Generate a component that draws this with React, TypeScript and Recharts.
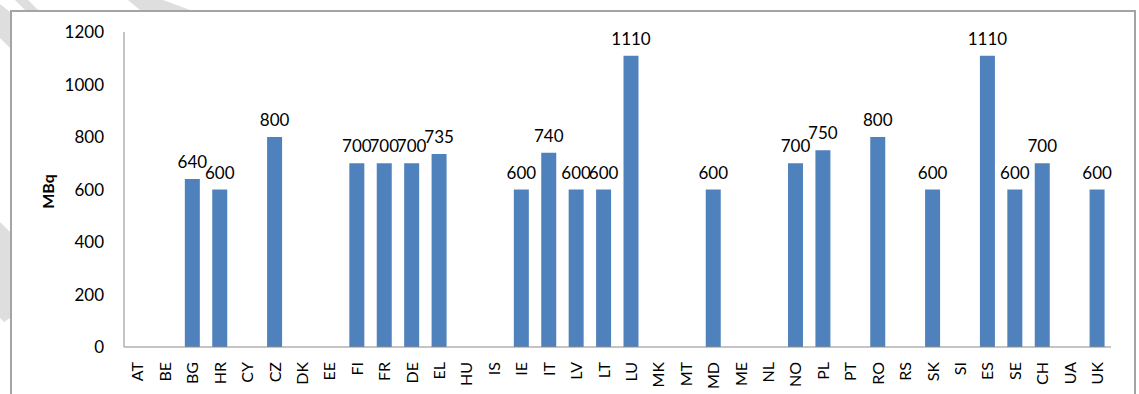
import React from 'react';
import { BarChart, Bar, XAxis, YAxis, LabelList, Label } from 'recharts';

// Country codes along the category axis
const countries: string[] = [
  'AT', 'BE', 'BG', 'HR', 'CY', 'CZ', 'DK', 'EE', 'FI', 'FR', 'DE', 'EL',
  'HU', 'IS', 'IE', 'IT', 'LV', 'LT', 'LU', 'MK', 'MT', 'MD', 'ME', 'NL',
  'NO', 'PL', 'PT', 'RO', 'RS', 'SK', 'SI', 'ES', 'SE', 'CH', 'UA', 'UK',
];

// Activity in MBq per country (null = no value reported)
const activity: (number | null)[] = [
  null, null, 640, 600, null, 800, null, null, 700, 700, 700, 735,
  null, null, 600, 740, 600, 600, 1110, null, null, 600, null, null,
  700, 750, null, 800, null, 600, null, 1110, 600, 700, null, 600,
];

const yTicks: number[] = [0, 200, 400, 600, 800, 1000, 1200];

const data = countries.map((c, i) => ({ country: c, value: activity[i] }));

const FONT = 'Lato, "Open Sans", sans-serif';

const CountryTick = (props: any) => {
  const { x, y, payload } = props;
  return (
    <g transform={`translate(${x},${y})`}>
      <text
        transform="rotate(-90)"
        textAnchor="end"
        dy="0.36em"
        fontFamily={FONT}
        fontSize={16}
        fill="#000"
      >
        {payload.value}
      </text>
    </g>
  );
};

const ValueTick = (props: any) => {
  const { x, y, payload } = props;
  return (
    <text
      x={x}
      y={y}
      dy="0.36em"
      textAnchor="end"
      fontFamily={FONT}
      fontSize={17}
      fill="#000"
    >
      {payload.value}
    </text>
  );
};

const AxisTitle = (props: any) => {
  const { viewBox } = props;
  const cx = viewBox.x - 16;
  const cy = viewBox.y + viewBox.height / 2 + 2;
  return (
    <text
      x={cx}
      y={cy}
      transform={`rotate(-90, ${cx}, ${cy})`}
      textAnchor="middle"
      dy="0.36em"
      fontFamily={FONT}
      fontSize={16}
      fontWeight="bold"
      fill="#000"
    >
      MBq
    </text>
  );
};

export default function App() {
  return (
    <div style={{ position: 'absolute', left: 0, top: 0, width: 1139, height: 394, background: '#fff', overflow: 'hidden' }}>
      {/* faint page decoration around the frame */}
      <svg width={1139} height={394} style={{ position: 'absolute', left: 0, top: 0 }}>
        <polygon points="15,0 28,0 38,10 25,10" fill="#dedede" />
        <polygon points="128,0 163,0 190,10 140,10" fill="#dedede" />
        <polygon points="0,4 10,12 10,48 0,38" fill="#dedede" />
        <polygon points="0,222 10,232 10,318 4,322 0,318" fill="#dedede" />
      </svg>
      <div
        style={{
          position: 'absolute',
          left: 10,
          top: 10,
          width: 1122,
          height: 400,
          borderLeft: '2px solid #a4a4a4',
          borderTop: '2px solid #a4a4a4',
          borderRight: '2px solid #a4a4a4',
          background: '#fff',
        }}
      />
      <div style={{ position: 'absolute', left: 0, top: 0 }}>
        <BarChart
          width={1139}
          height={394}
          data={data}
          margin={{ top: 32, right: 28, bottom: 7, left: 64 }}
          barSize={15}
        >
          <XAxis
            dataKey="country"
            interval={0}
            tickLine={false}
            tickSize={0}
            tickMargin={15}
            height={40}
            axisLine={{ stroke: '#8a8a8a' }}
            tick={<CountryTick />}
          />
          <YAxis
            domain={[0, 1200]}
            ticks={yTicks}
            interval={0}
            width={60}
            tickLine={false}
            tickSize={0}
            tickMargin={20}
            axisLine={{ stroke: '#8a8a8a' }}
            tick={<ValueTick />}
          >
            <Label content={<AxisTitle />} />
          </YAxis>
          <Bar dataKey="value" fill="#4f81bd" isAnimationActive={false}>
            <LabelList
              dataKey="value"
              position="top"
              offset={11}
              fontFamily={FONT}
              fontSize={17}
              fill="#000"
            />
          </Bar>
        </BarChart>
      </div>
    </div>
  );
}
